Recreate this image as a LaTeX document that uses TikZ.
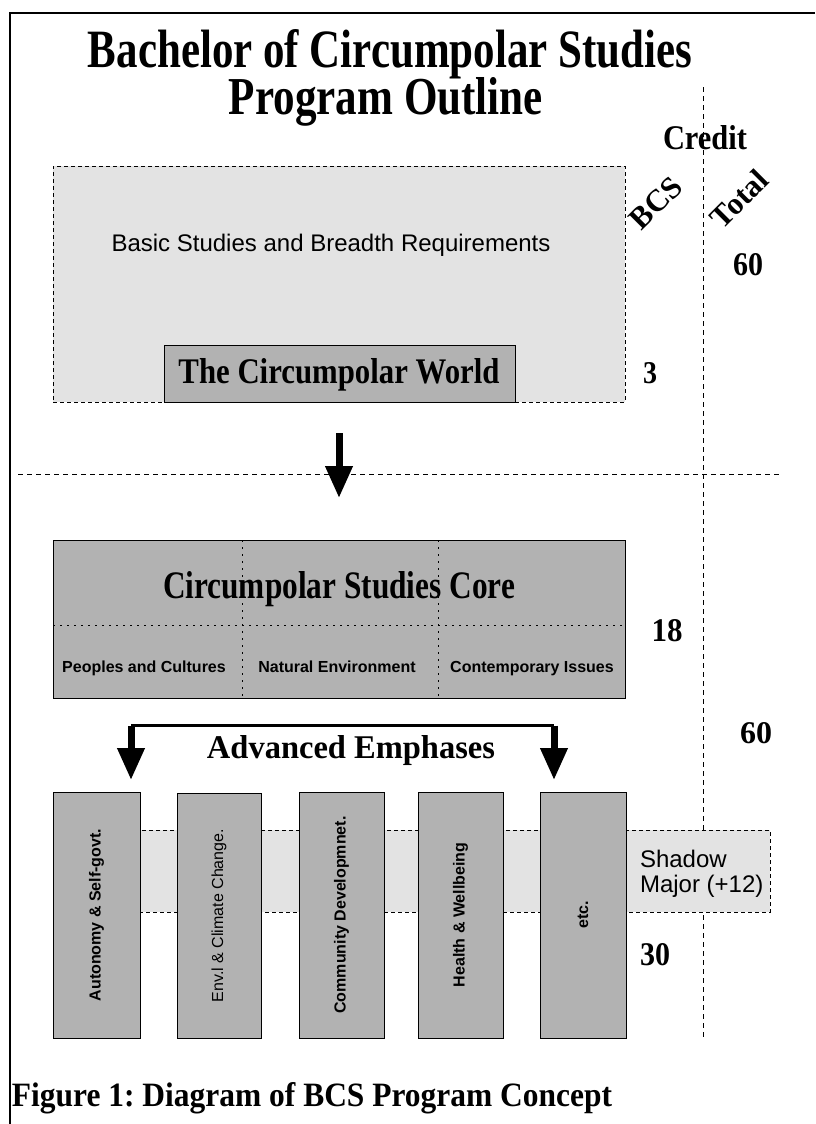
\documentclass[tikz,border=0pt]{standalone}
\usepackage{fontspec}
\setmainfont{Liberation Serif}
\setsansfont{Liberation Sans}
\usepackage{graphicx}
\usetikzlibrary{arrows.meta}
\definecolor{lightfill}{HTML}{E3E3E3}
\definecolor{darkfill}{HTML}{B2B2B2}
\newcommand\fitbf[3]{\resizebox{#1pt}{#2pt}{\bfseries #3}}
\frenchspacing
\begin{document}
\begin{tikzpicture}[x=1pt,y=-1pt,
  every node/.style={inner sep=0pt, outer sep=0pt},
  frameline/.style={line width=2.6pt},
  lightbox/.style={draw, fill=lightfill, dash pattern=on 4pt off 3pt, line width=0.8pt},
  darkbox/.style={draw, fill=darkfill, line width=0.9pt},
  guide/.style={dash pattern=on 5pt off 4pt, line width=0.8pt},
  innerdot/.style={dash pattern=on 2pt off 5pt, line width=0.8pt},
  bigarrow/.style={line width=7pt, -{Triangle[length=32pt,width=26pt]}},
  serifbold/.style={anchor=base},
  diaglabel/.style={rotate=45, font=\bfseries\fontsize{31}{31}\selectfont},
  rotlabel/.style={rotate=90, font=\sffamily\bfseries\fontsize{16}{16}\selectfont},
  sublabel/.style={anchor=base, font=\sffamily\bfseries\fontsize{16}{16}\selectfont},
]
\useasboundingbox (0,0) rectangle (815,1124);
% frame
\draw[frameline] (815,13) -- (10,13) -- (10,1130);
% title
\node[serifbold] (title1) at (390,67) {\fitbf{604}{38}{Bachelor of Circumpolar Studies}};
\node[serifbold] (title2) at (386,114) {\fitbf{314}{37}{Program Outline}};
\node[serifbold] (credit) at (705,149) {\fitbf{84}{24}{Credit}};
\node[diaglabel] (bcs) at (656,203) {BCS};
\node[diaglabel] (total) at (739,199) {Total};
% guides
\coordinate (gtop) at (703,87);
\coordinate (gbot) at (703,1038);
\draw[guide] (gtop) -- (gbot);
\coordinate (hl) at (18,474);
\coordinate (hr) at (781,474);
\draw[guide] (hl) -- (hr);
% basic studies
\node[lightbox, anchor=north west, minimum width=572pt, minimum height=236pt] (basic) at (53,166) {};
\node[anchor=base, font=\sffamily\fontsize{24}{24}\selectfont] (basictxt) at (331,251) {Basic Studies and Breadth Requirements};
\node[darkbox, anchor=north west, minimum width=351pt, minimum height=57pt] (world) at (164,345) {};
\node[serifbold] (worldtxt) at (339,383) {\fitbf{321}{25}{The Circumpolar World}};
% credits
\node[serifbold] (n60a) at (748,275) {\fitbf{30}{22}{60}};
\node[serifbold] (n3) at (650,383) {\fitbf{14}{21}{3}};
\node[serifbold] (n18) at (667,641) {\fitbf{31}{22}{18}};
\node[serifbold] (n60b) at (756,743) {\fitbf{32}{21}{60}};
\node[serifbold] (n30) at (655,965) {\fitbf{30}{22}{30}};
% core
\node[darkbox, anchor=north west, minimum width=572pt, minimum height=158pt] (core) at (53,540) {};
\node[serifbold] (coretxt) at (339,598) {\fitbf{352}{27}{Circumpolar Studies Core}};
\node[sublabel] (peoples) at (144,672) {Peoples and Cultures};
\node[sublabel] (natural) at (337,672) {Natural Environment};
\node[sublabel] (contemp) at (532,672) {Contemporary Issues};
\coordinate (v1) at (242,0);
\coordinate (v2) at (438,0);
\coordinate (h1) at (0,625);
\draw[innerdot] (core.north -| v1) -- (core.south -| v1);
\draw[innerdot] (core.north -| v2) -- (core.south -| v2);
\draw[innerdot] (core.west |- h1) -- (core.east |- h1);
\draw[bigarrow, shorten <=31pt, shorten >=42pt] (basic.south) -- (core.north);
% shadow major band
\node[lightbox, anchor=north west, minimum width=673pt, minimum height=82pt] (band) at (97,830) {};
\node[anchor=base west, font=\sffamily\fontsize{24}{24}\selectfont] (shadow1) at (640,867) {Shadow};
\node[anchor=base west, font=\sffamily\fontsize{24}{24}\selectfont] (shadow2) at (640,892) {Major (+12)};
% emphasis boxes
\node[darkbox, anchor=north west, minimum width=87pt, minimum height=246pt] (e1) at (53,792) {};
\node[darkbox, anchor=north west, minimum width=84pt, minimum height=245pt] (e2) at (177,793) {};
\node[darkbox, anchor=north west, minimum width=85pt, minimum height=246pt] (e3) at (299,792) {};
\node[darkbox, anchor=north west, minimum width=85pt, minimum height=246pt] (e4) at (418,792) {};
\node[darkbox, anchor=north west, minimum width=86pt, minimum height=246pt] (e5) at (540,792) {};
\node[rotlabel] (l1) at (e1.center) {Autonomy \& Self-govt.};
\node[rotlabel, font=\sffamily\fontsize{16}{16}\selectfont] (l2) at (e2.center) {Env.l \& Climate Change.};
\node[rotlabel] (l3) at (e3.center) {Community Developmnet.};
\node[rotlabel] (l4) at (e4.center) {Health \& Wellbeing};
\node[rotlabel] (l5) at (e5.center) {etc.};
% bracket
\coordinate (bl) at (131,725.5);
\coordinate (br) at (554,725.5);
\draw[line width=3pt] (bl) -- (br);
\draw[bigarrow, shorten >=12pt] (bl) -- (bl |- e1.north);
\draw[bigarrow, shorten >=12pt] (br) -- (br |- e5.north);
\node[serifbold] (adv) at (351,758) {\fitbf{288}{23}{Advanced Emphases}};
% caption
\node[anchor=base west] (caption) at (12,1106) {\fitbf{600}{24}{Figure 1: Diagram of BCS Program Concept}};
\end{tikzpicture}
\end{document}
